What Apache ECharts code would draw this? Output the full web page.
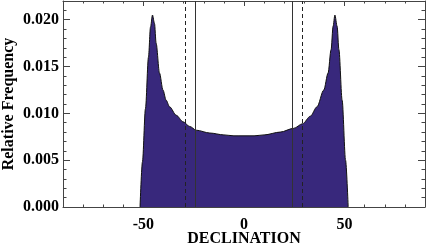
<!DOCTYPE html>
<html>
<head>
<meta charset="utf-8">
<script src="https://cdn.jsdelivr.net/npm/echarts@6.0.0/dist/echarts.min.js"></script>
<style>
  html, body { margin: 0; padding: 0; background: #fff; }
  #chart { width: 426px; height: 245px; }
</style>
</head>
<body>
<div id="chart"></div>
<script>
// declination (deg) and relative frequency
var declination = [-51.7, -50.5, -49, -47.5, -46.5, -45.5, -44.5, -43.7, -42, -40.3, -38.7, -37, -33.7, -30.3, -27, -23.7, -17, -10, -5, 0,
  5, 10, 18, 24.7, 29.2, 33, 36.3, 39.7, 41.8, 43.3, 44.3, 45.2, 46.3, 47.2, 48.8, 50.5, 51.8]
var frequency = [0, 0.0048, 0.0105, 0.0160, 0.0192, 0.0205, 0.0196, 0.0175, 0.0143, 0.0125, 0.0114, 0.0107, 0.0098, 0.0091, 0.0086, 0.0082, 0.0079, 0.0077, 0.0076, 0.0076,
  0.0076, 0.0077, 0.0080, 0.0084, 0.0089, 0.0097, 0.0107, 0.0125, 0.0143, 0.0168, 0.0193, 0.0205, 0.0193, 0.0168, 0.0114, 0.0050, 0]

var xTicks = [-50, 0, 50]
var yTicks = [0, 0.005, 0.01, 0.015, 0.02]
var solidLines = [-24, 24]
var dashedLines = [-29, 29]

var points = []
for (var i = 0; i < declination.length; i++) {
  points.push([declination[i], frequency[i]])
}

var font = 'Liberation Serif'
var frame = '#444'

function xAx(pos, major, labels) {
  return {
    type: 'value',
    position: pos,
    min: -90,
    max: 90,
    interval: 10,
    splitLine: { show: false },
    axisLine: { show: !major, onZero: false, lineStyle: { color: frame, width: 1 } },
    axisTick: major
      ? { inside: true, length: 5, customValues: xTicks, lineStyle: { color: frame } }
      : { inside: true, length: 2.5, lineStyle: { color: frame } },
    axisLabel: labels
      ? { show: true, customValues: xTicks, margin: 10, color: '#000', fontFamily: font, fontWeight: 'bold', fontSize: 16 }
      : { show: false },
    name: labels ? 'DECLINATION' : '',
    nameLocation: 'middle',
    nameGap: 24,
    nameMoveOverlap: false,
    nameTextStyle: { color: '#000', fontFamily: font, fontWeight: 'bold', fontSize: 16 },
  }
}

function yAx(pos, major, labels) {
  return {
    type: 'value',
    position: pos,
    min: 0,
    max: 0.022,
    interval: 0.001,
    splitLine: { show: false },
    axisLine: { show: !major, onZero: false, lineStyle: { color: frame, width: 1 } },
    axisTick: major
      ? { inside: true, length: 7, customValues: yTicks, lineStyle: { color: frame } }
      : { inside: true, length: 3.5, lineStyle: { color: frame } },
    axisLabel: labels
      ? {
        show: true, customValues: yTicks, margin: 4, color: '#000', fontFamily: font, fontWeight: 'bold', fontSize: 16,
        formatter: function (v) { return v.toFixed(3) },
      }
      : { show: false },
    name: labels ? 'Relative Frequency' : '',
    nameLocation: 'middle',
    nameGap: 46,
    nameMoveOverlap: false,
    nameTextStyle: { color: '#000', fontFamily: font, fontWeight: 'bold', fontSize: 16 },
  }
}

function vlines(vals) {
  return vals.map(function (v) { return { xAxis: v } })
}

var chart = echarts.init(document.getElementById('chart'), null, { renderer: 'canvas' })
chart.setOption({
  animation: false,
  grid: { left: 63, right: 1, top: 1, bottom: 38, outerBoundsMode: 'none' },
  xAxis: [xAx('bottom', false, true), xAx('bottom', true, false), xAx('top', false, false), xAx('top', true, false)],
  yAxis: [yAx('left', false, true), yAx('left', true, false), yAx('right', false, false), yAx('right', true, false)],
  series: [
    {
      type: 'line',
      data: points,
      showSymbol: false,
      smooth: 0.3,
      smoothMonotone: 'x',
      lineStyle: { color: '#111', width: 1 },
      areaStyle: { color: '#38287c', opacity: 1 },
      z: 2,
      markLine: {
        silent: true,
        symbol: 'none',
        label: { show: false },
        lineStyle: { color: '#333', width: 1, type: 'solid' },
        data: vlines(solidLines),
      },
    },
    {
      type: 'line',
      data: [],
      z: 3,
      markLine: {
        silent: true,
        symbol: 'none',
        label: { show: false },
        lineStyle: { color: '#222', width: 1, type: [4, 3] },
        data: vlines(dashedLines),
      },
    },
  ],
})
</script>
</body>
</html>
